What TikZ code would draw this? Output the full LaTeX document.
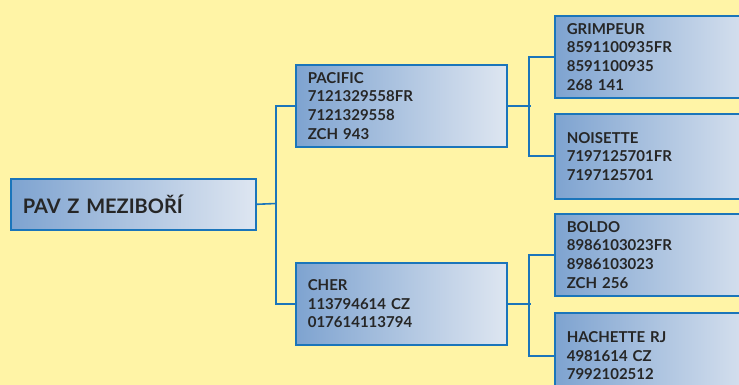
\documentclass[tikz,border=0pt]{standalone}
\usepackage{fontspec}
\setmainfont{Lato}
\definecolor{bg}{HTML}{FFF4A6}
\definecolor{edge}{HTML}{1B75BA}
\definecolor{gl}{HTML}{7EA3D0}
\definecolor{gm}{HTML}{A6BFE0}
\definecolor{gr}{HTML}{DEE6F1}
\definecolor{txt}{HTML}{262626}
\begin{document}
\begin{tikzpicture}[x=1pt,y=-1pt,
  box/.style={draw=edge, line width=1.6pt, left color=gl, middle color=gm, right color=gr,
    anchor=north west, inner xsep=12pt, inner ysep=0pt, align=left,
    text=txt, font=\bfseries\fontsize{15}{18.7}\selectfont},
  conn/.style={draw=edge, line width=1.6pt}]
\fill[bg] (0,0) rectangle (739,385);
\useasboundingbox (0,0) rectangle (739,385);
\clip (0,0) rectangle (739,385);
\node[box, minimum width=245pt, minimum height=51pt, text width=221pt,
  font=\bfseries\fontsize{20}{22}\selectfont] (main) at (10,178) {PAV Z MEZIBOŘÍ};
\node[box, minimum width=211pt, minimum height=82pt, text width=187pt] (pacific) at (295,64)
  {PACIFIC\\7121329558FR\\7121329558\\ZCH 943};
\node[box, minimum width=211pt, minimum height=82pt, text width=187pt] (cher) at (295,262)
  {CHER\\113794614 CZ\\017614113794};
\node[box, minimum width=210pt, minimum height=82pt, text width=186pt] (grimpeur) at (554,15)
  {GRIMPEUR\\8591100935FR\\8591100935\\268 141};
\node[box, minimum width=210pt, minimum height=85pt, text width=186pt] (noisette) at (554,113)
  {NOISETTE\\7197125701FR\\7197125701};
\node[box, minimum width=210pt, minimum height=82pt, text width=186pt] (boldo) at (554,213)
  {BOLDO\\8986103023FR\\8986103023\\ZCH 256};
\node[box, minimum width=210pt, minimum height=86pt, text width=186pt] (hachette) at (554,312)
  {HACHETTE RJ\\4981614 CZ\\7992102512};
\coordinate (j1) at (276,203.5);
\draw[conn] (main.east) -- (j1);
\draw[conn] (pacific.west) -- ++(-19,0) |- (cher.west);
\draw[conn] (pacific.east) -- ++(23,0);
\draw[conn] (grimpeur.west) -- ++(-25,0) |- (noisette.west);
\draw[conn] (cher.east) -- ++(23,0);
\draw[conn] (boldo.west) -- ++(-25,0) |- (hachette.west);
\end{tikzpicture}
\end{document}
